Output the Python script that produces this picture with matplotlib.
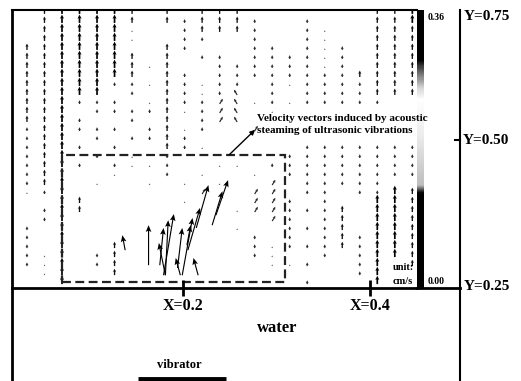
import numpy as np
import matplotlib
matplotlib.use('Agg')
import matplotlib.pyplot as plt
from matplotlib.colors import LinearSegmentedColormap, Normalize
from matplotlib.cm import ScalarMappable
from matplotlib.patches import Rectangle

plt.rcParams['font.family'] = ['Liberation Serif', 'DejaVu Serif']
plt.rcParams['font.weight'] = 'bold'

# measuring grid (nondimensional X, Y)
grid_x = np.linspace(0.033, 0.445, 23)
grid_y = np.linspace(0.743, 0.257, 31)

# vector map, one string per row (top -> bottom)
# '#' strong, '|' medium, ':' weak, '.' very weak, '>' up-right, '<' up-left
field_map = [
    " |####| | |||       ||#",
    " |####| |:|||:  :   ||#",
    " |####.  :|||:  :.  |||",
    " |####.  ::  :  :.  |||",
    "||####  |:   :: :.: |||",
    "||####| | :: ::::.: |||",
    "||####|.|  ::::::.: |||",
    "||####| |: ::::::::||||",
    "||###::.|:.:: :.::::|||",
    "||### : |:.:< : ::::|||",
    "||#::: .|::><.:.:::::  ",
    "||# ::::|.:>< .        ",
    "||#:  : | :><  .       ",
    ":|#::: :|.:  >.        ",
    ":|# : ::|:             ",
    ":|#: :  |:.     :::::::",
    ":|# : . :      ::::::::",
    ":|#: :..:  .. :::::::::",
    ":|#  .  : .  . ::::::::",
    ":|# .  . . .  > :::::  ",
    ".:#       >  >> :: ::#|",
    "  #|     .   >>: :  ##|",
    " :#|        .>>:::| ##|",
    " :#           >: :| ##|",
    ": #         .  :::| ##|",
    ": #          : : :|:##|",
    ": #  |       :.:::|:##|",
    ":.# :|       :.  : :##|",
    ":.# :|        ..:  :# |",
    " .#  |             :#  ",
    "  #             :   #  ",
]
vec_u = {'#': 0.0, '|': 0.0, ':': 0.0, '.': 0.0, '>': 0.0034, '<': -0.0034}
vec_v = {'#': 0.0150, '|': 0.0115, ':': 0.0068, '.': 0.0030, '>': 0.0095, '<': 0.0095}

# strong streaming jet above the vibrator
jet_x = [0.181, 0.179, 0.175, 0.199, 0.194, 0.205, 0.214, 0.235, 0.231, 0.163, 0.181, 0.197, 0.216, 0.138, 0.204]
jet_y = [0.273, 0.273, 0.291, 0.273, 0.286, 0.318, 0.358, 0.381, 0.363, 0.291, 0.273, 0.273, 0.273, 0.318, 0.327]
jet_u = [0.003, 0.011, 0.004, 0.011, 0.005, 0.013, 0.013, 0.013, 0.011, 0.000, -0.007, -0.005, -0.005, -0.003, 0.004]
jet_v = [0.099, 0.110, 0.067, 0.103, 0.072, 0.076, 0.077, 0.063, 0.061, 0.072, 0.058, 0.031, 0.031, 0.027, 0.036]

fig = plt.figure(figsize=(5.21, 3.81), dpi=100)

# colour bar
cmap = LinearSegmentedColormap.from_list('scan', [
    (0.0, 'black'), (0.34, 'black'), (0.37, '#bdbdbd'), (0.55, '#ececec'),
    (0.68, 'white'), (0.72, '#d5d5d5'), (0.79, '#505050'), (0.82, 'black'), (1.0, 'black')])
cax = fig.add_axes([417/521, 93/381, 7/521, 278/381])
cb = fig.colorbar(ScalarMappable(norm=Normalize(0, 0.36), cmap=cmap), cax=cax)
cb.set_ticks([])
cb.outline.set_visible(False)

# velocity field
ax = fig.add_axes([12/521, 93/381, 405/521, 278/381])
ax.set_xlim(0.017, 0.450)
ax.set_ylim(0.25, 0.75)

styles = {'#': (0.0042, 'black'), '|': (0.0033, '#111111'), ':': (0.003, '#2a2a2a'),
          '.': (0.003, '#555555'), '>': (0.003, '#2a2a2a'), '<': (0.003, '#2a2a2a')}
for ch, (w, col) in styles.items():
    xs, ys, us, vs = [], [], [], []
    for j, row in enumerate(field_map):
        for i, c in enumerate(row):
            if c == ch:
                xs.append(grid_x[i])
                ys.append(grid_y[j])
                us.append(vec_u[c])
                vs.append(vec_v[c])
    ax.quiver(xs, ys, us, vs, angles='xy', scale_units='xy', scale=1,
              width=w, color=col, headwidth=2.4, headlength=2.4, headaxislength=2.1)

ax.quiver(jet_x, jet_y, jet_u, jet_v, angles='xy', scale_units='xy', scale=1,
          width=0.0028, color='black', headwidth=5, headlength=6, headaxislength=5)

ax.add_patch(Rectangle((0.0705, 0.2608), 0.2385, 0.2282, fill=False,
                       ls=(0, (4, 2)), lw=1.6, ec='#222222'))
ax.annotate('', xy=(0.279, 0.538), xytext=(0.247, 0.486),
            arrowprops=dict(arrowstyle='-|>', lw=1, color='black', mutation_scale=7))
ax.text(0.279, 0.544, 'Velocity vectors induced by acoustic\nsteaming of ultrasonic vibrations',
        fontsize=8, ha='left', va='center', linespacing=1.3)

ax.spines['right'].set_visible(False)
ax.spines['left'].set_linewidth(2)
ax.spines['top'].set_linewidth(1.5)
ax.spines['bottom'].set_linewidth(2)
ax.set_yticks([])
ax.set_xticks([0.2, 0.4])
ax.set_xticklabels(['X=0.2', 'X=0.4'])
ax.tick_params(axis='x', direction='inout', length=12, width=2, pad=1, labelsize=11.5)

# outer frame and labels (pixel coordinates)
bg = fig.add_axes([0, 0, 1, 1], zorder=5)
bg.set_xlim(0, 521)
bg.set_ylim(381, 0)
bg.patch.set_visible(False)
bg.axis('off')
bg.plot([12, 12], [288, 381], color='black', lw=2)
bg.plot([460, 460], [10, 381], color='black', lw=1.5)
bg.plot([417, 460], [288, 288], color='black', lw=2)
bg.plot([455, 460], [140, 140], color='black', lw=1.5)
bg.plot([138, 226], [379, 379], color='black', lw=3.5, solid_capstyle='butt')

bg.text(464, 17, 'Y=0.75', fontsize=11, ha='left', va='center')
bg.text(463, 141, 'Y=0.50', fontsize=11, ha='left', va='center')
bg.text(464, 286, 'Y=0.25', fontsize=11, ha='left', va='center')
bg.text(428, 17, '0.36', fontsize=7, ha='left', va='center')
bg.text(428, 282, '0.00', fontsize=7, ha='left', va='center')
bg.text(403, 267, 'unit:', fontsize=7.5, ha='center', va='center')
bg.text(403, 281, 'cm/s', fontsize=7.5, ha='center', va='center')
bg.text(277, 328, 'water', fontsize=12, ha='center', va='center')
bg.text(179, 365, 'vibrator', fontsize=9, ha='center', va='center')

fig.savefig('out.png', dpi=100)
